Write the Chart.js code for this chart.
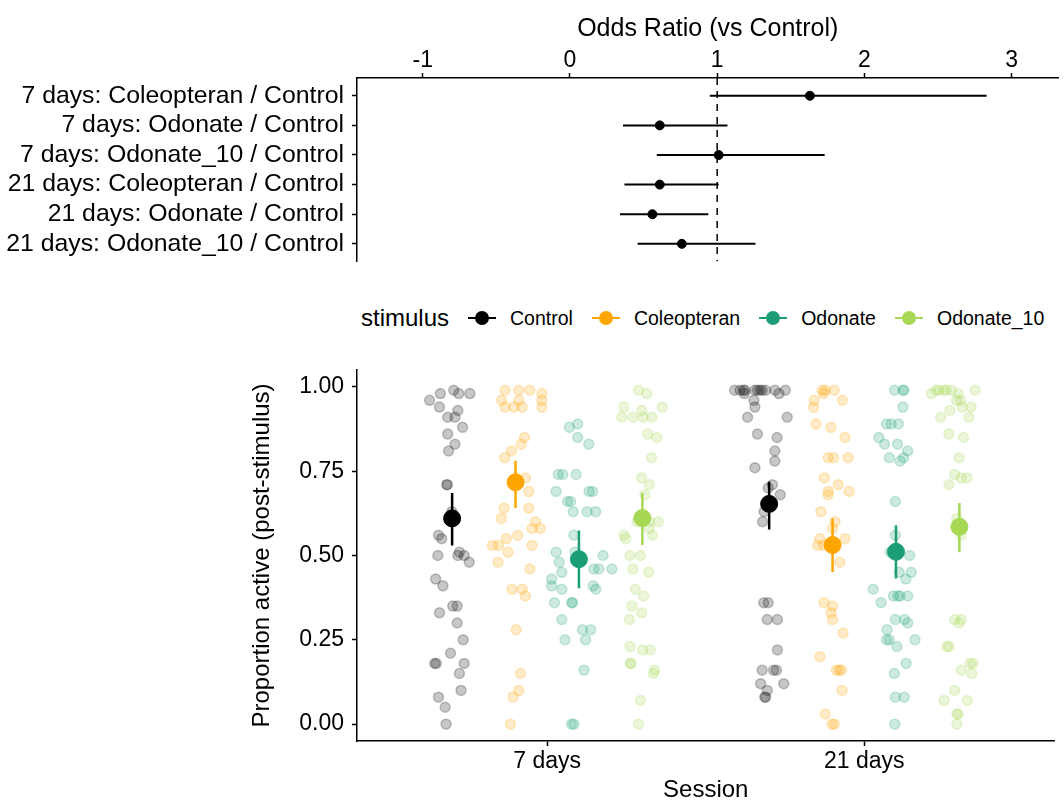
<!DOCTYPE html>
<html>
<head>
<meta charset="utf-8">
<script src="https://cdn.jsdelivr.net/npm/chart.js@4.4.1/dist/chart.umd.min.js"></script>
<style>
  body { margin: 0; background: #fff; font-family: 'Liberation Sans', Arial, sans-serif; }
  #wrap { position: relative; width: 1064px; height: 809px; overflow: hidden; }
  canvas { position: absolute; left: 0; }
  #forest { top: 0; }
  #props { top: 340px; }
  #legend { position: absolute; left: 361px; top: 300px; height: 36px; display: flex; align-items: center; color: #000; }
  #legend .title { font-size: 24px; }
  #legend .key { position: relative; width: 28px; height: 36px; margin-left: 19px; margin-right: 14px; }
  #legend .key .bar { position: absolute; left: 0; right: 0; top: 17px; height: 2px; }
  #legend .key .dot { position: absolute; left: 7px; top: 11px; width: 14px; height: 14px; border-radius: 50%; }
  #legend .label { font-size: 19.5px; }
</style>
</head>
<body>
<div id="wrap">
  <canvas id="forest" width="1064" height="282"></canvas>
  <div id="legend"></div>
  <canvas id="props" width="1064" height="469"></canvas>
</div>
<script>
// odds ratios of each stimulus against the control, per session
const contrastLabels = [
  '7 days: Coleopteran / Control',
  '7 days: Odonate / Control',
  '7 days: Odonate_10 / Control',
  '21 days: Coleopteran / Control',
  '21 days: Odonate / Control',
  '21 days: Odonate_10 / Control'
];
const oddsRatio = [1.63, 0.61, 1.01, 0.61, 0.56, 0.76];
const orLower = [0.95, 0.36, 0.59, 0.37, 0.34, 0.46];
const orUpper = [2.83, 1.07, 1.73, 1.01, 0.94, 1.26];
const orTicks = [-1, 0, 1, 2, 3];

// proportion active after the stimulus
const sessions = ['7 days', '21 days'];
const stimuli = ['Control', 'Coleopteran', 'Odonate', 'Odonate_10'];
const stimulusColors = ['#000000', '#FFA500', '#1B9E77', '#A6D854'];
const propTicks = [0, 0.25, 0.5, 0.75, 1];

// fitted means and intervals, in stimulus order
const mean7d = [0.61, 0.717, 0.489, 0.611];
const lower7d = [0.53, 0.641, 0.403, 0.531];
const upper7d = [0.685, 0.781, 0.574, 0.685];
const mean21d = [0.653, 0.531, 0.511, 0.585];
const lower21d = [0.577, 0.451, 0.432, 0.51];
const upper21d = [0.719, 0.61, 0.59, 0.656];

// individual observations: [jitter, proportion]
const control7d = [[-0.071,0.96],[-0.037,0.98],[0.005,0.99],[0.021,0.98],[0.056,0.98],[-0.040,0.94],[-0.014,0.91],[0.009,0.91],[0.018,0.93],[0.033,0.88],[-0.014,0.86],[0.009,0.83],[-0.011,0.81],[-0.017,0.71],[-0.015,0.71],[-0.001,0.63],[-0.043,0.56],[-0.033,0.55],[-0.045,0.50],[0.023,0.51],[0.018,0.50],[0.038,0.50],[0.054,0.48],[-0.052,0.43],[-0.029,0.41],[-0.040,0.33],[0.002,0.35],[0.016,0.35],[0.016,0.30],[0.035,0.25],[-0.005,0.21],[-0.055,0.18],[-0.050,0.18],[0.038,0.18],[0.023,0.15],[0.028,0.10],[-0.043,0.08],[-0.022,0.05],[-0.019,0.00]];
const coleopteran7d = [[-0.033,0.99],[0.010,0.99],[0.045,0.99],[0.083,0.98],[0.083,0.96],[0.083,0.94],[-0.044,0.96],[0.010,0.96],[-0.033,0.94],[-0.005,0.94],[0.021,0.94],[0.028,0.85],[0.018,0.83],[-0.013,0.81],[-0.034,0.79],[0.031,0.73],[0.042,0.69],[-0.036,0.64],[0.042,0.64],[-0.045,0.61],[0.063,0.60],[0.052,0.58],[0.078,0.58],[0.007,0.56],[-0.029,0.55],[-0.073,0.53],[-0.054,0.53],[0.052,0.53],[-0.024,0.51],[-0.055,0.48],[0.045,0.46],[-0.011,0.40],[0.021,0.40],[0.031,0.38],[0.002,0.28],[0.016,0.15],[0.010,0.10],[-0.008,0.08],[-0.016,0.00]];
const odonate7d = [[-0.004,0.89],[-0.030,0.88],[-0.004,0.85],[0.031,0.83],[-0.065,0.74],[-0.051,0.74],[-0.009,0.74],[-0.072,0.69],[0.032,0.69],[0.043,0.69],[-0.036,0.66],[-0.026,0.66],[-0.018,0.63],[0.026,0.63],[0.053,0.63],[-0.016,0.56],[-0.072,0.51],[-0.012,0.51],[-0.062,0.48],[-0.054,0.45],[0.076,0.50],[0.047,0.46],[0.063,0.46],[0.104,0.46],[-0.086,0.43],[-0.086,0.41],[-0.054,0.40],[0.045,0.41],[0.053,0.40],[-0.077,0.36],[-0.023,0.36],[-0.020,0.36],[-0.054,0.31],[0.011,0.28],[0.037,0.28],[-0.044,0.25],[0.021,0.25],[0.016,0.16],[-0.023,0.00],[-0.016,0.00]];
const odonate10_7d = [[-0.012,0.99],[0.014,0.98],[-0.058,0.94],[0.063,0.94],[-0.065,0.91],[-0.030,0.91],[-0.002,0.93],[0.003,0.91],[0.030,0.91],[0.017,0.86],[0.046,0.85],[0.029,0.79],[-0.002,0.73],[0.022,0.71],[0.008,0.68],[-0.017,0.60],[0.022,0.60],[0.050,0.60],[0.022,0.58],[0.032,0.56],[-0.058,0.56],[-0.052,0.55],[-0.039,0.50],[-0.006,0.50],[-0.030,0.46],[0.020,0.45],[-0.022,0.40],[0.004,0.38],[-0.033,0.35],[-0.002,0.33],[-0.041,0.31],[-0.039,0.23],[0.001,0.22],[0.025,0.22],[-0.038,0.18],[-0.036,0.18],[0.039,0.16],[0.035,0.15],[-0.006,0.07],[-0.012,0.00]];
const control21d = [[-0.109,0.99],[-0.092,0.99],[-0.081,0.99],[-0.076,0.99],[-0.045,0.99],[-0.037,0.99],[-0.029,0.99],[-0.022,0.99],[-0.011,0.99],[0.018,0.99],[0.051,0.99],[-0.078,0.98],[0.031,0.98],[-0.048,0.96],[-0.045,0.94],[-0.068,0.91],[0.057,0.91],[-0.037,0.86],[0.025,0.85],[0.018,0.81],[0.018,0.78],[-0.045,0.76],[0.010,0.71],[-0.003,0.70],[0.035,0.68],[-0.016,0.63],[-0.021,0.60],[-0.017,0.36],[-0.003,0.36],[-0.006,0.31],[0.026,0.31],[0.026,0.22],[-0.022,0.16],[0.014,0.16],[0.023,0.16],[-0.027,0.12],[0.046,0.12],[-0.006,0.10],[-0.014,0.08],[-0.011,0.08]];
const coleopteran21d = [[-0.033,0.99],[-0.023,0.99],[0.005,0.99],[-0.028,0.98],[-0.058,0.96],[0.031,0.96],[-0.060,0.94],[-0.052,0.89],[-0.005,0.88],[0.039,0.85],[-0.014,0.79],[0.003,0.79],[0.049,0.79],[-0.026,0.73],[0.018,0.71],[0.052,0.69],[-0.013,0.69],[-0.014,0.68],[-0.037,0.63],[0.008,0.60],[0.000,0.58],[-0.040,0.55],[0.039,0.55],[-0.047,0.53],[-0.029,0.53],[0.023,0.48],[-0.027,0.36],[0.000,0.35],[-0.005,0.33],[0.000,0.31],[0.033,0.27],[-0.040,0.20],[0.012,0.16],[0.021,0.16],[0.028,0.16],[0.030,0.10],[-0.023,0.03],[-0.002,0.00],[0.006,0.00]];
const odonate21d = [[-0.004,0.99],[0.022,0.99],[0.025,0.99],[0.022,0.94],[-0.030,0.89],[-0.015,0.89],[0.008,0.89],[-0.054,0.85],[-0.036,0.83],[0.005,0.83],[0.037,0.81],[0.024,0.79],[-0.021,0.79],[0.013,0.78],[-0.002,0.66],[-0.002,0.56],[-0.018,0.51],[0.043,0.50],[0.010,0.45],[0.048,0.45],[0.031,0.43],[-0.072,0.40],[-0.047,0.36],[-0.008,0.38],[0.006,0.38],[0.013,0.38],[0.037,0.38],[-0.002,0.31],[0.027,0.31],[0.037,0.30],[-0.028,0.28],[-0.030,0.25],[-0.021,0.25],[0.003,0.23],[0.060,0.25],[0.032,0.18],[-0.005,0.15],[-0.002,0.08],[0.026,0.08],[-0.004,0.00]];
const odonate10_21d = [[-0.074,0.99],[-0.065,0.99],[-0.049,0.99],[-0.041,0.99],[-0.025,0.99],[0.050,0.99],[-0.088,0.98],[-0.004,0.98],[-0.009,0.96],[0.004,0.96],[0.009,0.94],[0.037,0.94],[-0.059,0.91],[-0.030,0.93],[0.030,0.91],[-0.033,0.86],[0.013,0.85],[-0.001,0.79],[-0.015,0.74],[0.006,0.73],[0.024,0.73],[-0.033,0.71],[-0.008,0.61],[0.006,0.56],[-0.015,0.31],[0.006,0.31],[-0.001,0.30],[-0.039,0.23],[-0.033,0.23],[0.006,0.16],[0.034,0.18],[0.043,0.18],[0.039,0.15],[-0.015,0.10],[-0.048,0.07],[0.025,0.07],[-0.008,0.03],[-0.004,0.03],[-0.008,0.00]];

const rawBySession = [
  [control7d, coleopteran7d, odonate7d, odonate10_7d],
  [control21d, coleopteran21d, odonate21d, odonate10_21d]
];
const meanBySession = [mean7d, mean21d];
const lowerBySession = [lower7d, lower21d];
const upperBySession = [upper7d, upper21d];

// horizontal dodge of each stimulus inside a session
const dodge = [-0.3, -0.1, 0.1, 0.3];

const FONT = "'Liberation Sans', Arial, sans-serif";
Chart.defaults.font.family = FONT;
Chart.defaults.color = '#000';
Chart.defaults.animation = false;

function withAlpha(hex, a) {
  const n = parseInt(hex.slice(1), 16);
  return `rgba(${(n >> 16) & 255}, ${(n >> 8) & 255}, ${n & 255}, ${a})`;
}

function fixedTicks(values) {
  return scale => { scale.ticks = values.map(v => ({ value: v })); };
}

const axisGrid = { drawOnChartArea: false, tickLength: 5, tickColor: '#000', tickWidth: 1.5 };
const axisBorder = { color: '#000', width: 1.5 };

// legend of the stimuli, above the lower panel
const legendElem = document.getElementById('legend');
const legendTitle = document.createElement('span');
legendTitle.className = 'title';
legendTitle.textContent = 'stimulus';
legendElem.appendChild(legendTitle);
stimuli.forEach((name, k) => {
  const key = document.createElement('span');
  key.className = 'key';
  key.innerHTML = `<span class="bar" style="background:${stimulusColors[k]}"></span><span class="dot" style="background:${stimulusColors[k]}"></span>`;
  const label = document.createElement('span');
  label.className = 'label';
  label.textContent = name;
  legendElem.appendChild(key);
  legendElem.appendChild(label);
});

// forest plot of the odds ratios
new Chart(document.getElementById('forest'), {
  type: 'scatter',
  data: {
    datasets: [
      {
        data: oddsRatio.map((v, i) => ({ x: v, y: i })),
        pointRadius: 4.5,
        backgroundColor: '#000',
        borderColor: '#000',
        order: 1
      },
      ...contrastLabels.map((_, i) => ({
        data: [{ x: orLower[i], y: i }, { x: orUpper[i], y: i }],
        showLine: true,
        pointRadius: 0,
        borderColor: '#000',
        borderWidth: 2,
        order: 2
      })),
      {
        data: [{ x: 1, y: -0.6 }, { x: 1, y: 5.6 }],
        showLine: true,
        pointRadius: 0,
        borderColor: '#000',
        borderWidth: 1.5,
        borderDash: [7, 6],
        order: 3
      }
    ]
  },
  options: {
    responsive: false,
    devicePixelRatio: 1,
    events: [],
    layout: { padding: { top: 0, right: 4, bottom: 8, left: 0 } },
    plugins: { legend: { display: false }, tooltip: { enabled: false } },
    scales: {
      x: {
        type: 'linear',
        position: 'top',
        min: -1.447,
        max: 3.319,
        afterBuildTicks: fixedTicks(orTicks),
        afterFit: scale => { scale.height = 78; },
        grid: axisGrid,
        border: axisBorder,
        ticks: { color: '#000', autoSkip: false, maxRotation: 0, padding: 1, font: { size: 23, lineHeight: 1 }, callback: v => String(v) },
        title: { display: true, text: 'Odds Ratio (vs Control)', color: '#000', font: { size: 25, lineHeight: 1 }, padding: { top: 17, bottom: 0 } }
      },
      y: {
        type: 'linear',
        reverse: true,
        min: -0.6,
        max: 5.6,
        afterBuildTicks: fixedTicks(contrastLabels.map((_, i) => i)),
        afterFit: scale => { scale.width = 357; },
        grid: axisGrid,
        border: axisBorder,
        ticks: { color: '#000', autoSkip: false, padding: 8, font: { size: 24.8, lineHeight: 1 }, callback: v => contrastLabels[v] }
      }
    }
  }
});

// raw proportions, means and intervals per session and stimulus
const propDatasets = [];
stimuli.forEach((name, k) => {
  propDatasets.push({
    data: sessions.flatMap((_, s) => rawBySession[s][k].map(([j, p]) => ({ x: s + 1 + dodge[k] + j, y: p }))),
    pointRadius: 5,
    backgroundColor: withAlpha(stimulusColors[k], 0.22),
    borderColor: withAlpha(stimulusColors[k], 0.22),
    borderWidth: 1.5,
    order: 3
  });
  sessions.forEach((_, s) => {
    propDatasets.push({
      data: [{ x: s + 1 + dodge[k], y: lowerBySession[s][k] }, { x: s + 1 + dodge[k], y: upperBySession[s][k] }],
      showLine: true,
      pointRadius: 0,
      borderColor: stimulusColors[k],
      borderWidth: 2.5,
      order: 2
    });
  });
  propDatasets.push({
    data: sessions.map((_, s) => ({ x: s + 1 + dodge[k], y: meanBySession[s][k] })),
    pointRadius: 8.5,
    backgroundColor: stimulusColors[k],
    borderColor: stimulusColors[k],
    order: 1
  });
});

new Chart(document.getElementById('props'), {
  type: 'scatter',
  data: { datasets: propDatasets },
  options: {
    responsive: false,
    devicePixelRatio: 1,
    events: [],
    layout: { padding: { top: 30, right: 4, bottom: 0, left: 0 } },
    plugins: { legend: { display: false }, tooltip: { enabled: false } },
    scales: {
      x: {
        type: 'linear',
        min: 0.4,
        max: 2.6,
        afterBuildTicks: fixedTicks(sessions.map((_, s) => s + 1)),
        afterFit: scale => { scale.height = 68; },
        grid: axisGrid,
        border: axisBorder,
        ticks: { color: '#000', autoSkip: false, maxRotation: 0, padding: 4.5, font: { size: 23, lineHeight: 1 }, callback: v => sessions[v - 1] },
        title: { display: true, text: 'Session', color: '#000', font: { size: 24, lineHeight: 1 }, padding: { top: 0, bottom: 7 } }
      },
      y: {
        type: 'linear',
        min: -0.05,
        max: 1.05,
        afterBuildTicks: fixedTicks(propTicks),
        afterFit: scale => { scale.width = 357; },
        grid: axisGrid,
        border: axisBorder,
        ticks: { color: '#000', autoSkip: false, padding: 8, font: { size: 23, lineHeight: 1 }, callback: v => v.toFixed(2) },
        title: { display: true, text: 'Proportion active (post-stimulus)', color: '#000', font: { size: 24, lineHeight: 1 }, padding: { top: 250, bottom: 0 } }
      }
    }
  }
});
</script>
</body>
</html>
